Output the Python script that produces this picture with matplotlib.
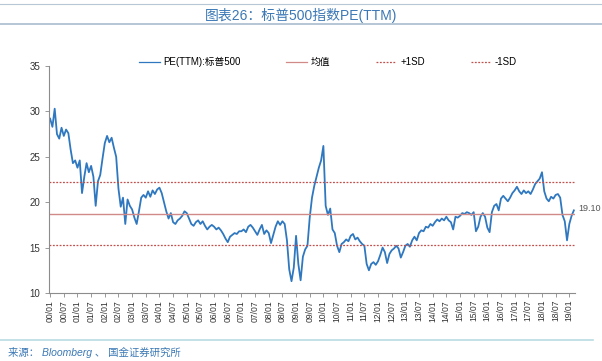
import matplotlib
matplotlib.use("Agg")
import matplotlib.pyplot as plt
from matplotlib.lines import Line2D

plt.rcParams['font.family'] = ['Liberation Sans', 'Noto Sans CJK SC', 'DejaVu Sans']

# monthly PE(TTM) readings, Jan 2000 .. Mar 2019
pe_2000 = [29.2, 28.3, 30.3, 27.5, 27.0, 28.2, 27.3, 28.0, 27.6, 25.8, 24.3, 24.6]
pe_2001 = [23.8, 24.6, 21.0, 22.8, 24.3, 23.3, 24.0, 22.8, 19.6, 22.3, 23.0, 24.8]
pe_2002 = [26.5, 27.3, 26.6, 27.1, 26.0, 25.0, 21.5, 19.5, 20.5, 17.6, 20.3, 19.6]
pe_2003 = [19.2, 18.3, 17.6, 19.0, 20.5, 20.8, 20.5, 21.2, 20.6, 21.3, 20.9, 21.4]
pe_2004 = [21.6, 21.0, 20.0, 19.0, 18.2, 18.8, 17.8, 17.6, 18.0, 18.2, 18.5, 19.0]
pe_2005 = [18.8, 18.2, 17.6, 17.4, 17.8, 18.0, 17.6, 17.9, 17.4, 17.0, 17.3, 17.5]
pe_2006 = [17.3, 17.0, 17.2, 16.9, 16.5, 16.0, 15.6, 16.2, 16.4, 16.6, 16.5, 16.8]
pe_2007 = [16.8, 17.0, 16.7, 17.3, 17.5, 17.2, 16.8, 16.4, 17.0, 17.5, 16.5, 16.9]
pe_2008 = [16.6, 15.5, 16.4, 17.3, 17.9, 17.5, 17.9, 17.6, 15.8, 12.6, 11.3, 12.8]
pe_2009 = [16.3, 13.2, 11.4, 14.0, 14.8, 15.2, 18.3, 20.5, 21.8, 22.8, 23.8, 24.6]
pe_2010 = [26.2, 19.6, 18.6, 19.3, 17.0, 16.6, 15.2, 14.5, 15.4, 15.6, 15.9, 15.7]
pe_2011 = [16.3, 16.5, 15.9, 16.1, 15.7, 15.4, 15.2, 13.2, 12.5, 13.2, 13.4, 13.1]
pe_2012 = [13.5, 14.2, 15.0, 14.5, 13.3, 14.3, 14.7, 14.9, 15.2, 14.9, 13.9, 14.5]
pe_2013 = [15.2, 15.4, 15.1, 15.8, 16.2, 15.8, 16.6, 16.9, 16.8, 17.3, 17.2, 17.6]
pe_2014 = [17.4, 17.8, 18.1, 17.9, 18.2, 18.0, 18.4, 18.0, 17.8, 17.0, 18.4, 18.3]
pe_2015 = [18.5, 18.8, 18.7, 18.9, 18.8, 18.6, 18.9, 16.8, 17.3, 18.4, 18.8, 18.4]
pe_2016 = [17.2, 16.7, 18.9, 19.6, 19.8, 19.1, 20.4, 20.7, 20.4, 20.1, 20.5, 21.0]
pe_2017 = [21.3, 21.7, 21.2, 20.9, 21.3, 21.0, 21.2, 20.9, 21.4, 22.0, 22.3, 22.6]
pe_2018 = [23.3, 21.2, 20.4, 20.1, 20.6, 20.4, 20.8, 20.9, 20.5, 18.6, 17.9, 15.8]
pe_2019 = [17.6, 18.5, 19.1]

pe = (pe_2000 + pe_2001 + pe_2002 + pe_2003 + pe_2004 + pe_2005 + pe_2006 +
      pe_2007 + pe_2008 + pe_2009 + pe_2010 + pe_2011 + pe_2012 + pe_2013 +
      pe_2014 + pe_2015 + pe_2016 + pe_2017 + pe_2018 + pe_2019)
months = list(range(len(pe)))

mean_val = 18.7
plus_sd = 22.2
minus_sd = 15.25
last_label = "19.10"

tick_labels = []
for yy in range(0, 20):
    tick_labels.append(f"{yy:02d}/01")
    if yy < 19:
        tick_labels.append(f"{yy:02d}/07")
tick_pos = [6 * i for i in range(len(tick_labels))]

fig = plt.figure(figsize=(6.02, 3.61), dpi=100)
fig.patch.set_facecolor('white')

# header / footer rules
fig.add_artist(Line2D([0.0, 1.0], [1 - 4/361, 1 - 4/361], color='#b7c7d6', lw=0.8))
fig.add_artist(Line2D([0.0, 1.0], [1 - 24/361, 1 - 24/361], color='#a9bccd', lw=1.2))
fig.add_artist(Line2D([0.0, 0.985], [1 - 340/361, 1 - 340/361], color='#b9dbe3', lw=1.2))
fig.text(0.5, 1 - 15/361, "图表26：标普500指数PE(TTM)", ha='center', va='center',
         fontsize=10, color='#3b78b5')
fig.text(8/602, 1 - 352/361, "来源： Bloomberg 、 国金证券研究所", ha='left', va='center',
         fontsize=7.5, color='#3b78b5', style='italic')

ax = fig.add_axes([49/602, (361-293)/361, (575-49)/602, (293-66)/361])
ax.plot(months, pe, color='#2f78c0', lw=1.3, label='PE(TTM):标普500')
ax.axhline(mean_val, color='#d08a87', lw=1.0, label='均值')
ax.axhline(plus_sd, color='#c0504d', lw=0.9, ls=(0, (1.5, 1.2)), label='+1SD')
ax.axhline(minus_sd, color='#c0504d', lw=0.9, ls=(0, (1.5, 1.2)), label='-1SD')

ax.set_xlim(-0.5, 230.5)
ax.set_ylim(10, 35)
ax.set_yticks([10, 15, 20, 25, 30, 35])
ax.set_xticks(tick_pos)
ax.set_xticklabels(tick_labels, rotation=90, fontsize=6.2, color='#333333')
ax.tick_params(axis='y', labelsize=7, colors='#333333', length=3, width=0.6, color='#888888')
ax.tick_params(axis='x', length=3, width=0.6, color='#888888', pad=2)
for s in ['top', 'right']:
    ax.spines[s].set_visible(False)
for s in ['left', 'bottom']:
    ax.spines[s].set_color('#8c8c8c')
    ax.spines[s].set_linewidth(0.8)

ax.annotate(last_label, xy=(months[-1], pe[-1]), xytext=(3, 1), textcoords='offset points',
            fontsize=6.5, color='#555555', va='center', ha='left', annotation_clip=False)

handles, labels = ax.get_legend_handles_labels()
for h in handles:
    pass
leg = fig.legend(handles, labels, loc='center', bbox_to_anchor=(0.545, 1 - 62/361), ncol=4,
                 frameon=False, fontsize=7, handlelength=2.1, columnspacing=4.7,
                 handletextpad=0.4)
for h in leg.get_lines():
    h.set_linewidth(0.9)

fig.savefig('out.png', dpi=100, facecolor='white')
